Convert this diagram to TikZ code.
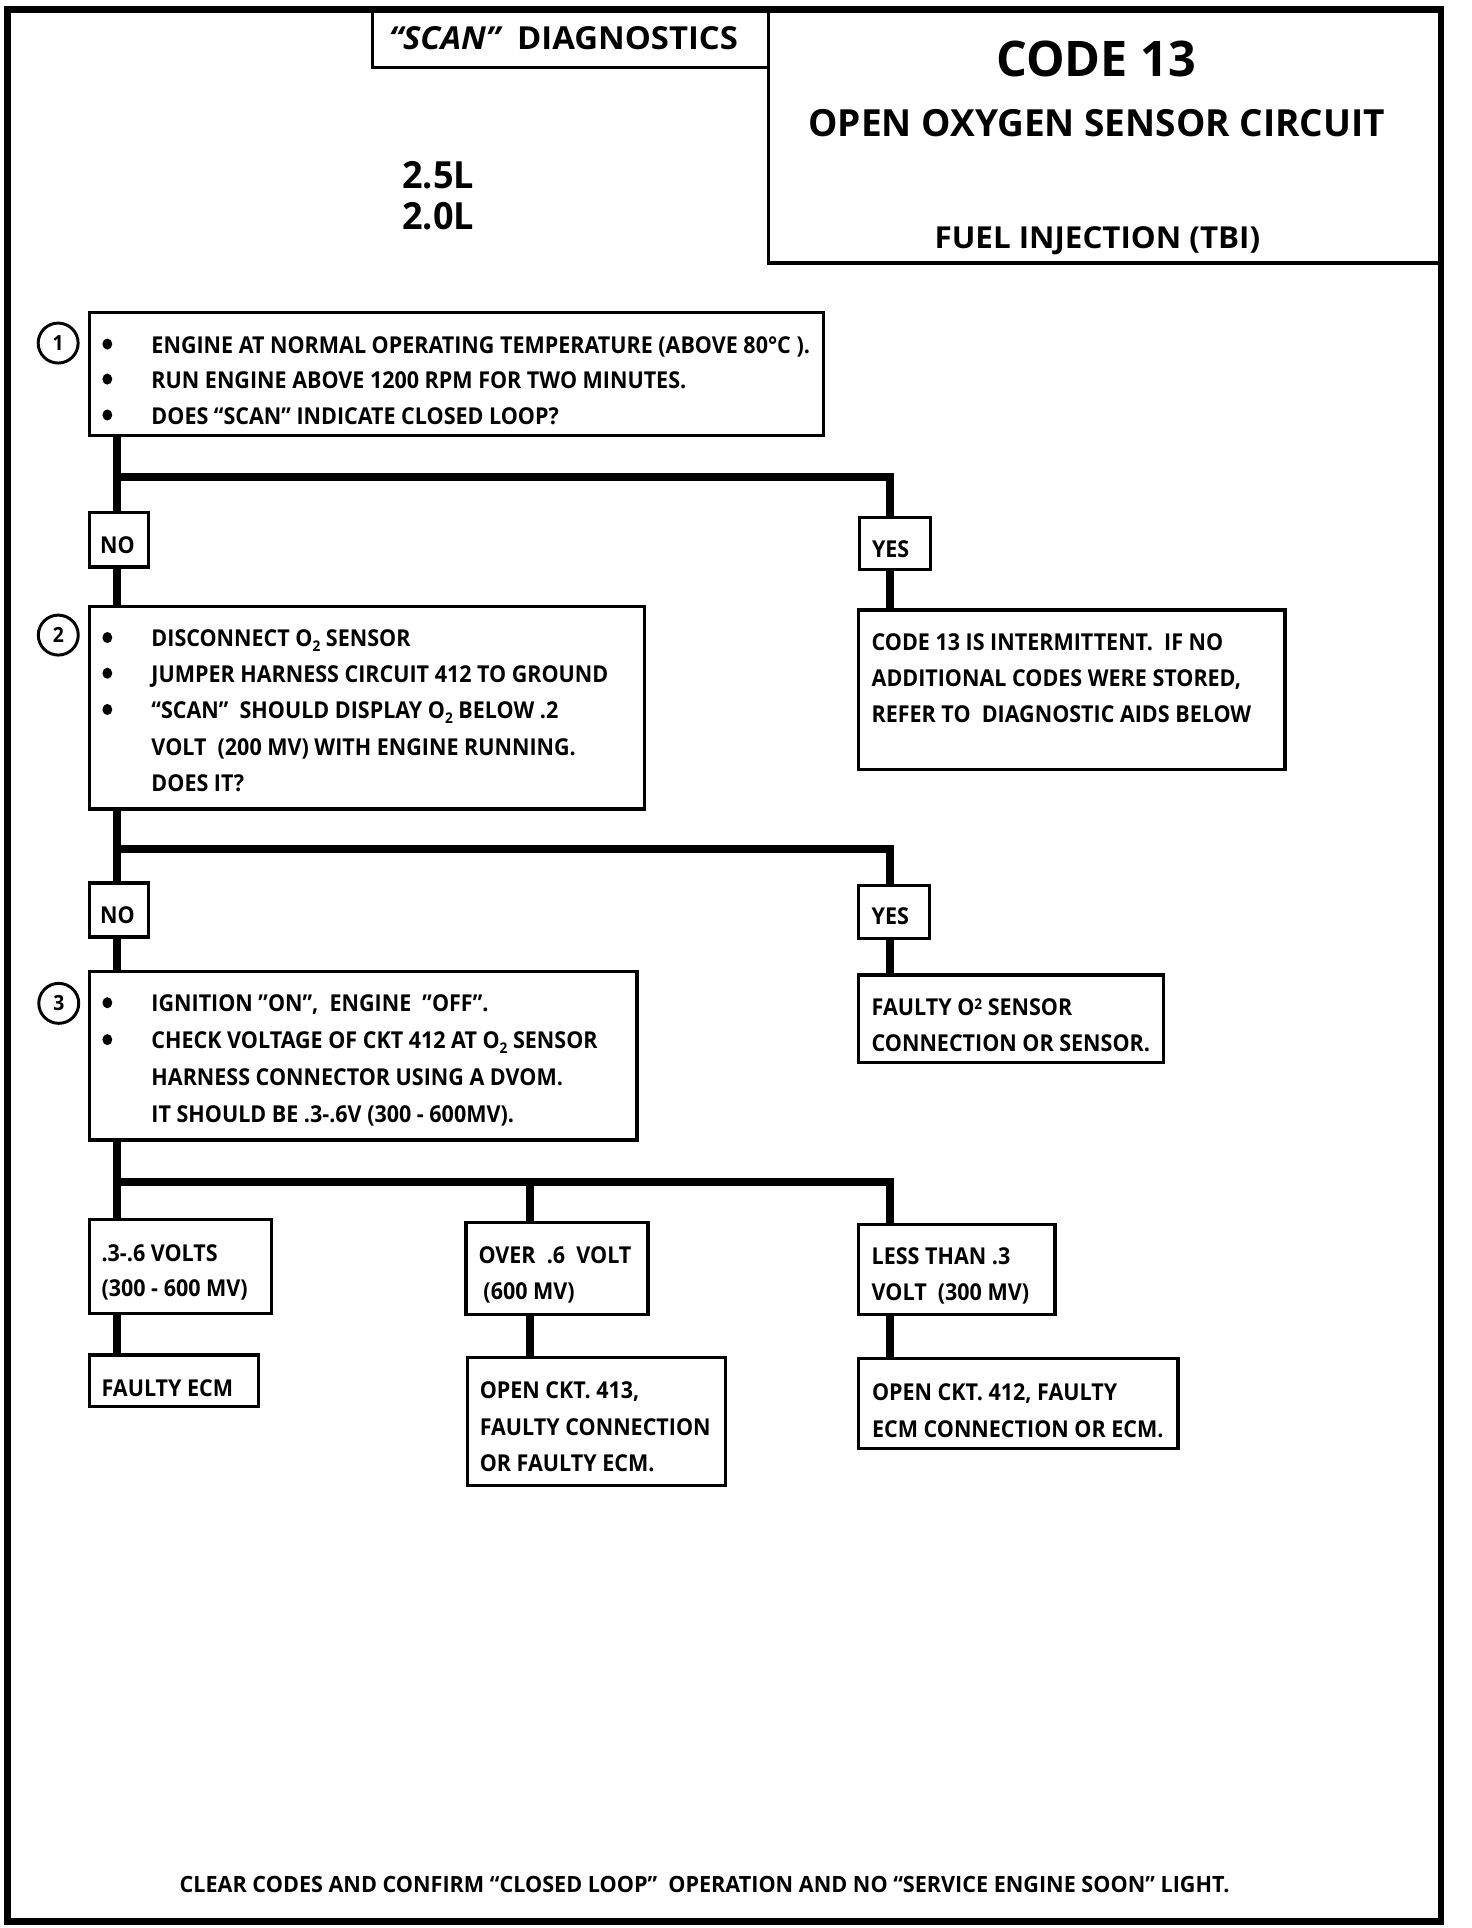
\documentclass[tikz,border=0pt]{standalone}
\usepackage{fontspec}
\usetikzlibrary{shapes.geometric}
\setmainfont{Open Sans}[FakeStretch=0.925]
\newfontfamily\hdA{Open Sans}[FakeStretch=0.99]
\newfontfamily\hdB{Open Sans}[FakeStretch=1.035]
\newfontfamily\hdC{Open Sans}[FakeStretch=0.965]
\newcommand\bodyf{\fontsize{18.9}{22}\selectfont\bfseries}
\newcommand\subtwo{\raisebox{-4pt}{\fontsize{12}{12}\selectfont 2}}
\newcommand\suptwo{\raisebox{5pt}{\fontsize{12}{12}\selectfont 2}}
\begin{document}
\begin{tikzpicture}[x=1pt,y=-1pt,
  box/.style={draw, line width=2.7pt, rectangle, inner sep=0pt, outer sep=0pt, anchor=north west},
  conn/.style={line width=6.5pt},
  frame/.style={line width=5.5pt},
  txt/.style={inner sep=0pt, anchor=base west, font=\bodyf},
  ctxt/.style={inner sep=0pt, anchor=base, font=\bodyf},
  circ/.style={circle, draw, line width=2.4pt, minimum size=32.5pt, inner sep=0pt, font=\fontsize{17}{17}\selectfont\bfseries},
  bul/.style={ellipse, fill, minimum width=8pt, minimum height=9pt, inner sep=0pt}]
\useasboundingbox (0,0) rectangle (1197,1568);
% outer frame
\draw[frame] (6,8) rectangle (1172,1563);
% header boxes
\node[box, minimum width=322pt, minimum height=47pt] (scan) at (303,8) {};
\node[box, minimum width=547pt, minimum height=206pt] (code) at (625,8) {};
\node[txt, font=\fontsize{25.8}{26}\selectfont\hdB\bfseries] (scant) at (316,40) {\itshape “SCAN”\upshape\ \ DIAGNOSTICS};
\node[ctxt, font=\fontsize{39.9}{40}\selectfont\hdA\bfseries] (codet) at (891.5,62.4) {CODE 13};
\node[ctxt, font=\fontsize{30.4}{31}\selectfont\hdA\bfseries] (oxyt) at (892,111.2) {OPEN OXYGEN SENSOR CIRCUIT};
\node[ctxt, font=\fontsize{24.6}{25}\selectfont\hdB\bfseries] (fuelt) at (892.5,201.8) {FUEL INJECTION (TBI)};
\node[txt, font=\fontsize{30.4}{31}\selectfont\hdC\bfseries] (e25) at (327,153) {2.5L};
\node[txt, font=\fontsize{30.4}{31}\selectfont\hdC\bfseries] (e20) at (327,187) {2.0L};
% boxes
\node[box, minimum width=597pt, minimum height=100pt] (s1) at (73,254) {};
\node[box, minimum width=48pt, minimum height=44pt] (no1) at (73,417) {};
\node[box, minimum width=58pt, minimum height=42pt] (yes1) at (699,421) {};
\node[box, minimum width=451pt, minimum height=165pt] (s2) at (73,493) {};
\node[box, minimum width=347pt, minimum height=130pt] (int) at (698,496) {};
\node[box, minimum width=48pt, minimum height=44pt] (no2) at (73,718) {};
\node[box, minimum width=58pt, minimum height=43pt] (yes2) at (698,720) {};
\node[box, minimum width=445pt, minimum height=137pt] (s3) at (73,790) {};
\node[box, minimum width=248pt, minimum height=71pt] (fo2) at (698,793) {};
\node[box, minimum width=148pt, minimum height=76pt] (ra) at (73,992) {};
\node[box, minimum width=148pt, minimum height=75pt] (rb) at (379,994) {};
\node[box, minimum width=160pt, minimum height=73pt] (rc) at (698,996) {};
\node[box, minimum width=137pt, minimum height=42pt] (rd) at (73,1102) {};
\node[box, minimum width=210pt, minimum height=104pt] (re) at (380,1104) {};
\node[box, minimum width=260pt, minimum height=73pt] (rf) at (698,1105) {};
% step circles
\node[circ] (c1) at (47.3,279) {1};
\node[circ] (c2) at (47.4,516.5) {2};
\node[circ] (c3) at (47.8,816) {3};
% connector guides
\coordinate (cL) at (95.2,0);
\coordinate (cM) at (431,0);
\coordinate (cR) at (724,0);
\coordinate (j1) at (95.2,388);
\coordinate (j2) at (95.2,690.5);
\coordinate (j3) at (95.2,961);
% connectors
\draw[conn] (s1.south -| cL) -- (no1.north -| cL);
\draw[conn] (j1) -| (yes1.north -| cR);
\draw[conn] (no1.south -| cL) -- (s2.north -| cL);
\draw[conn] (yes1.south -| cR) -- (int.north -| cR);
\draw[conn] (s2.south -| cL) -- (no2.north -| cL);
\draw[conn] (j2) -| (yes2.north -| cR);
\draw[conn] (no2.south -| cL) -- (s3.north -| cL);
\draw[conn] (yes2.south -| cR) -- (fo2.north -| cR);
\draw[conn] (s3.south -| cL) -- (ra.north -| cL);
\draw[conn] (j3) -| (rc.north -| cR);
\draw[conn] (j3 -| cM) -- (rb.north -| cM);
\draw[conn] (ra.south -| cL) -- (rd.north -| cL);
\draw[conn] (rb.south -| cM) -- (re.north -| cM);
\draw[conn] (rc.south -| cR) -- (rf.north -| cR);
% step 1
\node[bul] (b1a) at (87.3,279.8) {};
\node[bul] (b1b) at (87.3,308.3) {};
\node[bul] (b1c) at (87.3,337.5) {};
\node[txt] (t1a) at (123,287.3) {ENGINE AT NORMAL OPERATING TEMPERATURE (ABOVE 80°C ).};
\node[txt] (t1b) at (123,315.8) {RUN ENGINE ABOVE 1200 RPM FOR TWO MINUTES.};
\node[txt] (t1c) at (123,345) {DOES “SCAN” INDICATE CLOSED LOOP?};
\node[ctxt] (no1t) at (95.5,450) {NO};
\node[txt] (yes1t) at (709,453) {YES};
% step 2
\node[bul] (b2a) at (87.3,518.5) {};
\node[bul] (b2b) at (87.3,547.5) {};
\node[bul] (b2c) at (87.3,577) {};
\node[txt] (t2a) at (123,526) {DISCONNECT O\subtwo\ SENSOR};
\node[txt] (t2b) at (123,555) {JUMPER HARNESS CIRCUIT 412 TO GROUND};
\node[txt] (t2c) at (123,584.5) {“SCAN”\ \ SHOULD DISPLAY O\subtwo\ BELOW .2};
\node[txt] (t2d) at (123,614.5) {VOLT\ \ (200 MV) WITH ENGINE RUNNING.};
\node[txt] (t2e) at (123,643.5) {DOES IT?};
\node[txt] (it1) at (708.7,529) {CODE 13 IS INTERMITTENT.\ \ IF NO};
\node[txt] (it2) at (708.7,558) {ADDITIONAL CODES WERE STORED,};
\node[txt] (it3) at (708.7,587.2) {REFER TO\ \ DIAGNOSTIC AIDS BELOW};
\node[ctxt] (no2t) at (95.5,751) {NO};
\node[txt] (yes2t) at (708.7,752) {YES};
% step 3
\node[bul] (b3a) at (87.3,815.5) {};
\node[bul] (b3b) at (87.3,845.5) {};
\node[txt] (t3a) at (123,823) {IGNITION ”ON”,\ \ ENGINE\ \ ”OFF”.};
\node[txt] (t3b) at (123,853) {CHECK VOLTAGE OF CKT 412 AT O\subtwo\ SENSOR};
\node[txt] (t3c) at (123,882.4) {HARNESS CONNECTOR USING A DVOM.};
\node[txt] (t3d) at (123,912.5) {IT SHOULD BE .3-.6V (300 - 600MV).};
\node[txt] (f1) at (708.7,825.7) {FAULTY O\suptwo\ SENSOR};
\node[txt] (f2) at (708.7,854.8) {CONNECTION OR SENSOR.};
% results
\node[txt] (ra1) at (82.4,1025.6) {.3-.6 VOLTS};
\node[txt] (ra2) at (82.4,1054.8) {(300 - 600 MV)};
\node[txt] (rb1) at (389,1027.5) {OVER\ \ .6\ \ VOLT};
\node[txt] (rb2) at (393,1056.7) {(600 MV)};
\node[txt] (rc1) at (708.7,1028.3) {LESS THAN .3};
\node[txt] (rc2) at (708.7,1057.5) {VOLT\ \ (300 MV)};
\node[txt] (rd1) at (82.4,1135.4) {FAULTY ECM};
\node[txt] (re1) at (390,1137.2) {OPEN CKT. 413,};
\node[txt] (re2) at (390,1167.5) {FAULTY CONNECTION};
\node[txt] (re3) at (390,1196.7) {OR FAULTY ECM.};
\node[txt] (rf1) at (709,1139) {OPEN CKT. 412, FAULTY};
\node[txt] (rf2) at (709,1169) {ECM CONNECTION OR ECM.};
% footer
\node[ctxt, font=\fontsize{18.2}{19}\selectfont\hdC\bfseries] (foot) at (573,1539) {CLEAR CODES AND CONFIRM “CLOSED LOOP”\ \ OPERATION AND NO “SERVICE ENGINE SOON” LIGHT.};
\end{tikzpicture}
\end{document}
